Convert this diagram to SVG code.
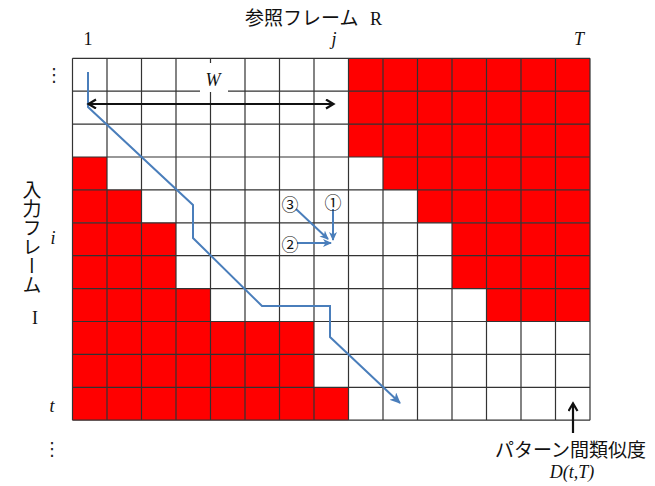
<svg xmlns="http://www.w3.org/2000/svg" width="655" height="486" viewBox="0 0 655 486">
<style>
.jp{font-family:"Noto Sans CJK JP","Noto Sans",sans-serif;font-size:19px;fill:#111}
.sr{font-family:"Liberation Serif",serif;font-size:18px;fill:#111}
.it{font-style:italic}
.red{fill:#ff0000}
.grid{stroke:#333;stroke-width:1.2;fill:none}
.blue{stroke:#4a7ebb;stroke-width:2;fill:none}
.blk{stroke:#111;stroke-width:2.2;fill:none}
.circ{font-family:"Noto Sans CJK JP","DejaVu Sans",sans-serif;font-size:17px;fill:#111}
.dots{font-family:"DejaVu Sans",sans-serif;font-size:18px;fill:#222}
</style>
<defs>
<marker id="bh" markerUnits="userSpaceOnUse" markerWidth="14" markerHeight="14" refX="10" refY="5" orient="auto">
<path d="M0,0 L11,5 L0,10 L3,5 z" fill="#4a7ebb"/>
</marker>
<marker id="bhs" markerUnits="userSpaceOnUse" markerWidth="12" markerHeight="12" refX="8" refY="4" orient="auto">
<path d="M0,0 L9,4 L0,8 L2.5,4 z" fill="#4a7ebb"/>
</marker>
<marker id="kh" markerUnits="userSpaceOnUse" markerWidth="14" markerHeight="14" refX="8" refY="5" orient="auto-start-reverse">
<path d="M1,0.5 L8.5,5 L1,9.5" fill="none" stroke="#111" stroke-width="2.2"/>
</marker>
</defs>
<rect width="655" height="486" fill="#fff"/>

<g id="matrix">
<rect x="72.5" y="58.3" width="517.5" height="361.9" fill="#fff"/>
<g id="red-upper">
<rect class="red" x="348.5" y="58.3" width="241.5" height="98.7"/>
<rect class="red" x="383" y="157" width="207" height="32.9"/>
<rect class="red" x="417.5" y="189.9" width="172.5" height="32.9"/>
<rect class="red" x="452" y="222.8" width="138" height="65.8"/>
<rect class="red" x="486.5" y="288.6" width="103.5" height="32.9"/>
</g>
<g id="red-lower">
<rect class="red" x="72.5" y="157" width="34.5" height="32.9"/>
<rect class="red" x="72.5" y="189.9" width="69" height="32.9"/>
<rect class="red" x="72.5" y="222.8" width="103.5" height="65.8"/>
<rect class="red" x="72.5" y="288.6" width="138" height="32.9"/>
<rect class="red" x="72.5" y="321.5" width="241.5" height="65.8"/>
<rect class="red" x="72.5" y="387.3" width="276" height="32.9"/>
</g>
<path class="grid" d="M72.5,58.3V420.2M107,58.3V420.2M141.5,58.3V420.2M176,58.3V420.2M210.5,58.3V420.2M245,58.3V420.2M279.5,58.3V420.2M314,58.3V420.2M348.5,58.3V420.2M383,58.3V420.2M417.5,58.3V420.2M452,58.3V420.2M486.5,58.3V420.2M521,58.3V420.2M555.5,58.3V420.2M590,58.3V420.2
M72.5,58.3H590M72.5,91.2H590M72.5,124.1H590M72.5,157H590M72.5,189.9H590M72.5,222.8H590M72.5,255.7H590M72.5,288.6H590M72.5,321.5H590M72.5,354.4H590M72.5,387.3H590M72.5,420.2H590"/>
</g>

<g id="connectors">
<path id="warp-path" class="blue" d="M88,72 L88,107 L193,205 L193,238 L262,306 L330,306 L330,337 L400,403" marker-end="url(#bh)"/>
<line id="w-arrow" class="blk" x1="89" y1="104" x2="333" y2="104" marker-start="url(#kh)" marker-end="url(#kh)"/>
<line id="arrow-1" class="blue" x1="333" y1="209" x2="333" y2="240" marker-end="url(#bhs)"/>
<line id="arrow-3" class="blue" x1="296" y1="209" x2="328" y2="239" marker-end="url(#bhs)"/>
<line id="arrow-2" class="blue" x1="297" y1="243" x2="331" y2="243" marker-end="url(#bhs)"/>
<line id="d-arrow" class="blk" x1="573" y1="433" x2="573" y2="404" marker-end="url(#kh)"/>
</g>

<g id="w-label">
<rect x="200" y="63" width="28" height="29" fill="#fff"/>
<text class="sr it" x="213" y="86" text-anchor="middle" font-size="17">W</text>
</g>

<g id="circled">
<text class="circ" x="290" y="203" text-anchor="middle" dominant-baseline="central">③</text>
<text class="circ" x="333" y="201" text-anchor="middle" dominant-baseline="central">①</text>
<text class="circ" x="290" y="243" text-anchor="middle" dominant-baseline="central">②</text>
</g>

<g id="axis-labels">
<text class="jp" x="245" y="25">参照フレーム</text>
<text class="sr" x="370" y="25" font-size="19">R</text>
<text class="sr" x="88" y="45" text-anchor="middle">1</text>
<text class="sr it" x="334" y="45" text-anchor="middle">j</text>
<text class="sr it" x="579" y="45" text-anchor="middle">T</text>
<text class="dots" x="54" y="81" text-anchor="middle">⋮</text>
<text class="jp" x="32" y="180" style="writing-mode:vertical-rl;text-orientation:upright">入力フレーム</text>
<text class="sr" x="35" y="324" text-anchor="middle" font-size="19">I</text>
<text class="sr it" x="53" y="244" text-anchor="middle">i</text>
<text class="sr it" x="52" y="412" text-anchor="middle">t</text>
<text class="dots" x="52" y="455" text-anchor="middle">⋮</text>
<text class="jp" x="495" y="457">パターン間類似度</text>
<text class="sr it" x="572" y="478" text-anchor="middle" font-size="17">D(t,T)</text>
</g>
</svg>
